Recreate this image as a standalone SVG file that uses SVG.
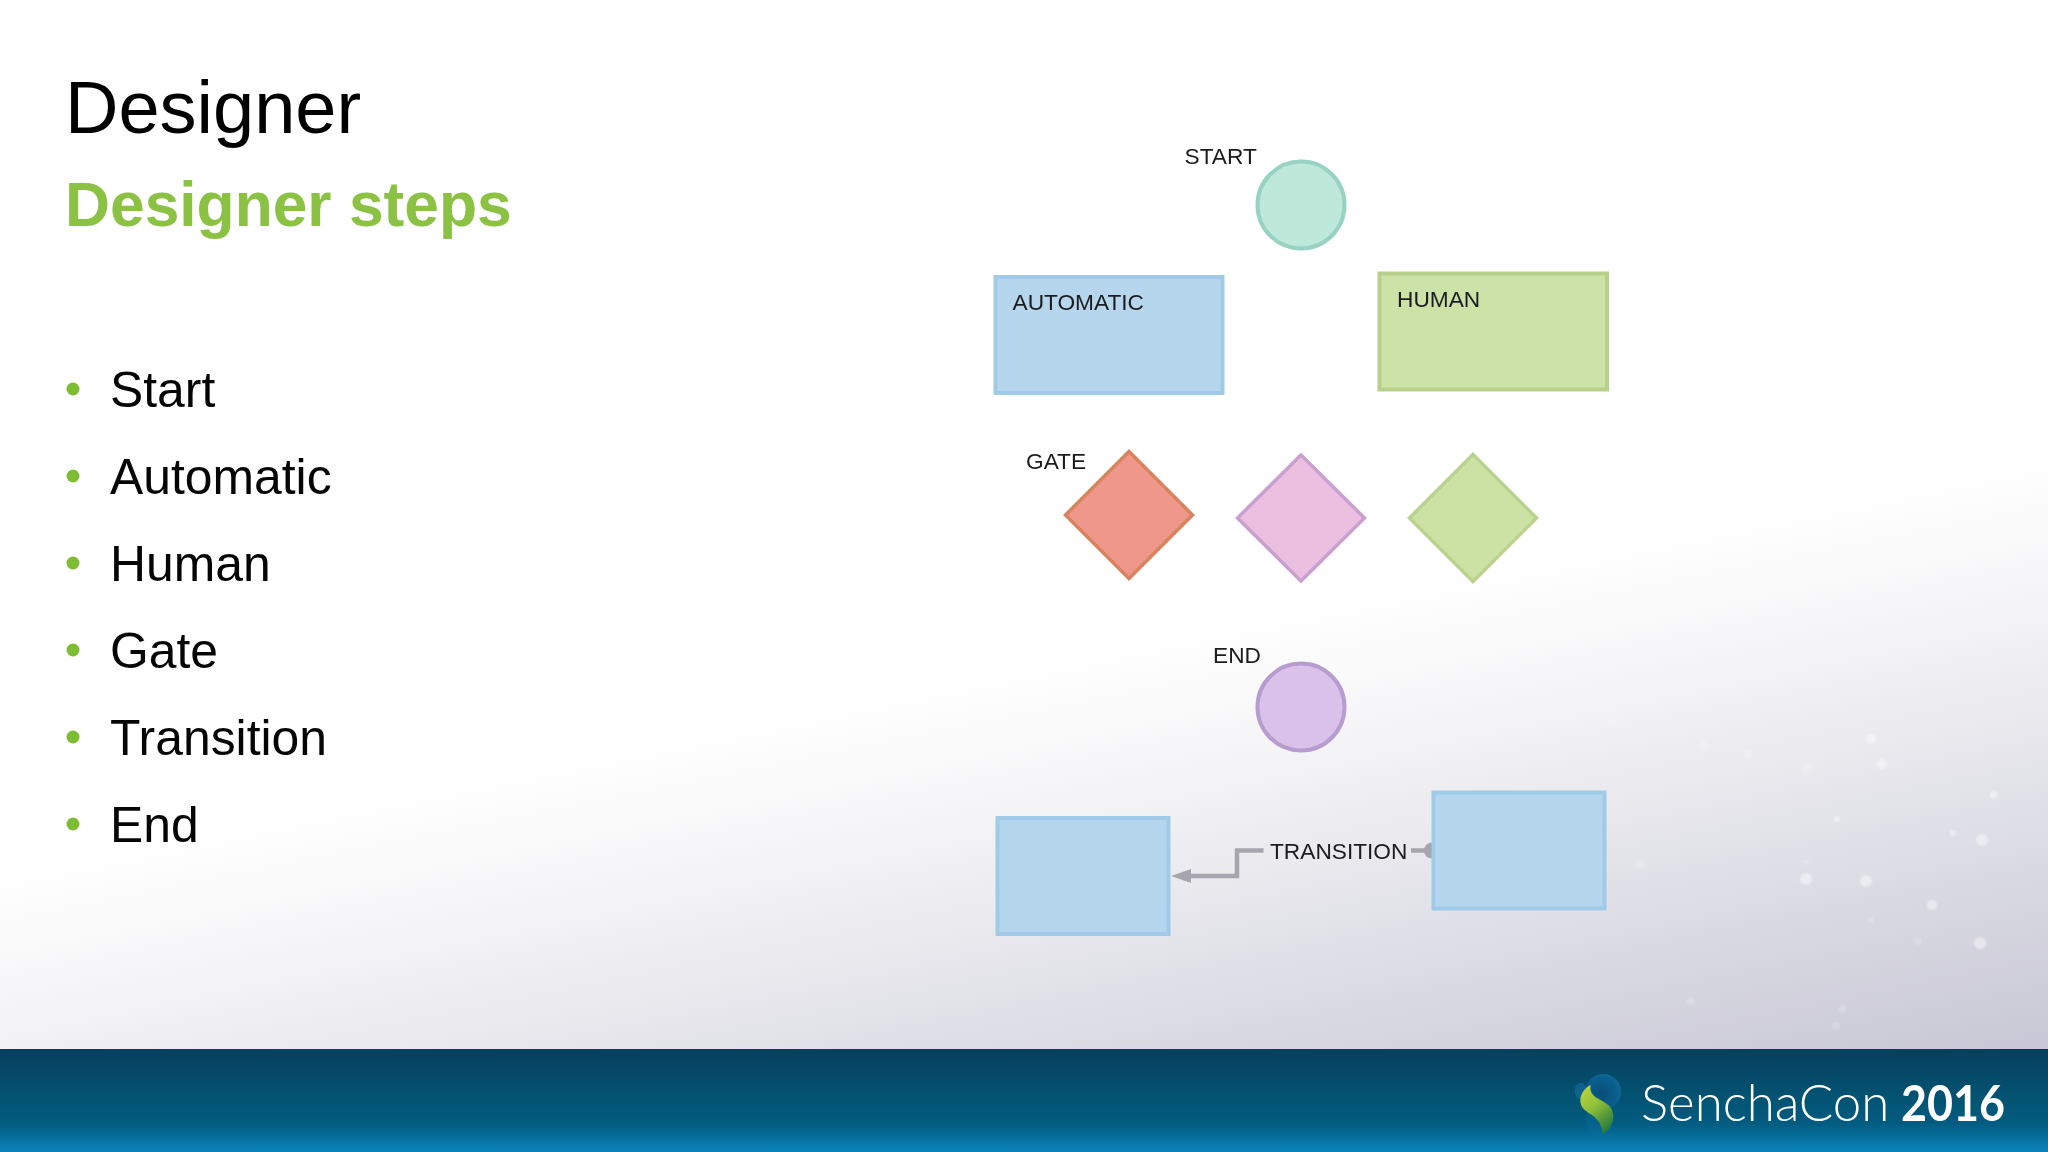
<svg xmlns="http://www.w3.org/2000/svg" width="2048" height="1152" viewBox="0 0 2048 1152">
<style>
text{font-family:"Liberation Sans",Arial,sans-serif}
.lbl{font-size:22.7px;fill:#1c1c1f}
.item{font-size:49.85px;fill:#050505}
.dot{fill:#7ebc33}
.task{fill:#b5d6ec;stroke:#a0cbe8;stroke-width:4}
.spark{fill:#fff;opacity:.45}
.faint{fill:#fff;opacity:.2}
</style>
<defs>
<linearGradient id="bg" gradientUnits="userSpaceOnUse" x1="1024" y1="655" x2="1142" y2="1234">
<stop offset="0" stop-color="#ffffff"/><stop offset=".12" stop-color="#fbfbfc"/><stop offset=".33" stop-color="#f0f0f3"/><stop offset=".65" stop-color="#dcdce5"/><stop offset="1" stop-color="#c8c7d5"/>
</linearGradient>
<linearGradient id="bar" x1="0" y1="0" x2="0" y2="1">
<stop offset="0" stop-color="#073f5e"/><stop offset=".55" stop-color="#035676"/><stop offset=".72" stop-color="#035b80"/><stop offset="1" stop-color="#0984bd"/>
</linearGradient>
<linearGradient id="leaf" x1="0" y1="0" x2=".6" y2="1">
<stop offset="0" stop-color="#c3da3a"/><stop offset=".5" stop-color="#8fc03a"/><stop offset="1" stop-color="#2f7f3c"/>
</linearGradient>
<radialGradient id="ball" cx=".45" cy=".55" r=".65">
<stop offset="0" stop-color="#084f78"/><stop offset=".7" stop-color="#0a5f8e"/><stop offset="1" stop-color="#12739f"/>
</radialGradient>
<marker id="tip" markerUnits="userSpaceOnUse" markerWidth="20" markerHeight="14" refX="0" refY="7" orient="auto"><path d="M0 0L20 7L0 14Z" fill="#a7a6ae"/></marker>
<filter id="soft" x="-50%" y="-50%" width="200%" height="200%"><feGaussianBlur stdDeviation="1"/></filter>
</defs>
<rect id="background" width="2048" height="1152" fill="url(#bg)"/>
<g id="sparkles" filter="url(#soft)">
<circle class="spark" cx="1871" cy="739" r="5"/><circle class="spark" cx="1882" cy="764" r="5"/><circle class="faint" cx="1807" cy="769" r="6"/><circle class="faint" cx="1748" cy="754" r="5"/><circle class="faint" cx="1704" cy="746" r="5"/><circle class="faint" cx="1612" cy="722" r="4"/><circle class="spark" cx="1994" cy="795" r="4"/><circle class="spark" cx="1837" cy="819" r="3"/><circle class="spark" cx="1953" cy="833" r="3"/><circle class="spark" cx="1982" cy="840" r="6"/><circle class="faint" cx="1640" cy="865" r="5"/><circle class="spark" cx="1806" cy="879" r="6"/><circle class="faint" cx="1806" cy="862" r="3"/><circle class="spark" cx="1866" cy="881" r="6"/><circle class="spark" cx="1932" cy="905" r="5"/><circle class="faint" cx="1871" cy="920" r="3"/><circle class="faint" cx="1918" cy="941" r="4"/><circle class="spark" cx="1980" cy="943" r="6"/><circle class="faint" cx="1691" cy="1001" r="4"/><circle class="faint" cx="1843" cy="1009" r="4"/><circle class="faint" cx="1836" cy="1026" r="4"/>
</g>
<g id="title">
<text x="65" y="133" font-size="74" fill="#000">Designer</text>
<text x="65" y="226" font-size="62.3" font-weight="700" fill="#8bc243">Designer steps</text>
</g>
<g id="list">
<circle class="dot" cx="73" cy="389" r="6.5"/><text class="item" x="110" y="407">Start</text>
<circle class="dot" cx="73" cy="476" r="6.5"/><text class="item" x="110" y="494">Automatic</text>
<circle class="dot" cx="73" cy="563" r="6.5"/><text class="item" x="110" y="581">Human</text>
<circle class="dot" cx="73" cy="650" r="6.5"/><text class="item" x="110" y="668">Gate</text>
<circle class="dot" cx="73" cy="737" r="6.5"/><text class="item" x="110" y="755">Transition</text>
<circle class="dot" cx="73" cy="824" r="6.5"/><text class="item" x="110" y="842">End</text>
</g>
<g id="connectors">
<path d="M1263.500 850.500H1237V876H1191" fill="none" stroke="#a7a6ae" stroke-width="4.500" marker-end="url(#tip)"/>
<path d="M1411 850.500H1430" fill="none" stroke="#a7a6ae" stroke-width="4.500"/>
<path d="M1432 842.500a8 8 0 0 0 0 16Z" fill="#a7a6ae"/>
</g>
<g id="node-start"><circle cx="1301" cy="205" r="43.500" fill="#bee9da" stroke="#98d2c3" stroke-width="4"/><text class="lbl" x="1184.500" y="164">START</text></g>
<g id="node-automatic"><rect class="task" x="995.500" y="277" width="227" height="116"/><text class="lbl" x="1012.500" y="310">AUTOMATIC</text></g>
<g id="node-human"><rect x="1379.500" y="273.500" width="227.500" height="116" fill="#cde2a7" stroke="#b8d18a" stroke-width="4"/><text class="lbl" x="1397" y="306.500">HUMAN</text></g>
<g id="node-gate-red"><path d="M1129 451.500L1192.500 515L1129 578.500L1065.500 515Z" fill="#ee978a" stroke="#d9825f" stroke-width="3.500"/><text class="lbl" x="1026" y="469">GATE</text></g>
<g id="node-gate-pink"><path d="M1301 455L1364.500 518L1301 581L1237.500 518Z" fill="#eabfdf" stroke="#c9a0d0" stroke-width="3.500"/></g>
<g id="node-gate-green"><path d="M1473 454.500L1536.500 518L1473 581.500L1409.500 518Z" fill="#cce2a4" stroke="#b9d38e" stroke-width="3.500"/></g>
<g id="node-end"><circle cx="1301" cy="707" r="43.500" fill="#d9c1ea" stroke="#b79dcf" stroke-width="4"/><text class="lbl" x="1213" y="663">END</text></g>
<g id="node-task-left"><rect class="task" x="997.500" y="818" width="171" height="116"/></g>
<g id="node-task-right"><rect class="task" x="1433.500" y="792.500" width="171" height="116"/></g>
<text id="transition-label" class="lbl" x="1270" y="858.500">TRANSITION</text>
<rect id="footer" y="1049" width="2048" height="103" fill="url(#bar)"/>
<g id="logo" transform="translate(1560 1065) scale(.3333)">
<circle cx="130" cy="80" r="53" fill="url(#ball)"/>
<circle cx="120" cy="165" r="42" fill="#0a6a9a" opacity=".45"/>
<ellipse cx="62" cy="78" rx="18" ry="24" fill="#14709f" opacity=".6"/>
<path d="M92 60C66 72 52 105 68 128C84 150 124 152 128 207C158 190 170 150 150 125C132 103 84 100 92 60Z" fill="url(#leaf)"/>
</g>
<g id="brand">
<text x="1641" y="1121" font-size="51" font-weight="300" fill="#fff" style="font-family:Lato,'Open Sans',sans-serif">SenchaCon</text>
<text x="1901" y="1121" font-size="50" font-weight="700" fill="#fff" textLength="104" lengthAdjust="spacingAndGlyphs" style="font-family:Lato,'Open Sans',sans-serif">2016</text>
</g>
</svg>
